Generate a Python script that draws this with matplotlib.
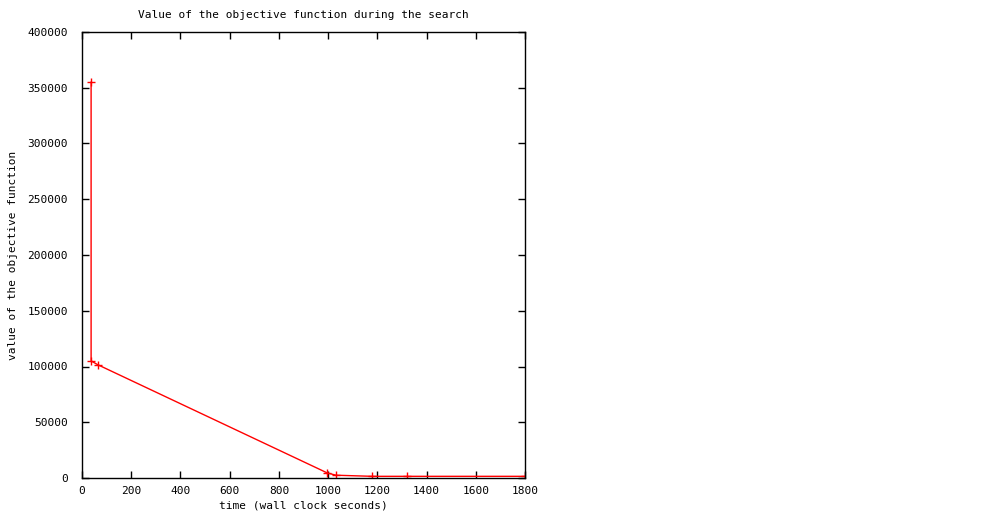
import matplotlib
matplotlib.use('Agg')
import matplotlib.pyplot as plt

# objective value over time
times = [37, 37, 65, 997, 1032, 1180, 1322, 1800]
values = [355000, 105000, 101500, 4500, 2500, 1500, 1500, 1500]

plt.rcParams['font.family'] = 'DejaVu Sans Mono'
plt.rcParams['font.size'] = 8

fig = plt.figure(figsize=(9.92, 5.12), dpi=100)
ax = fig.add_axes([82 / 992, 1 - 478 / 512, 443 / 992, 446 / 512])

ax.plot(times, values, color='#ff0000', linewidth=1, marker='+', markersize=6,
        markeredgewidth=1)

ax.set_xlim(0, 1800)
ax.set_ylim(0, 400000)
ax.set_xticks(range(0, 1801, 200))
ax.set_yticks(range(0, 400001, 50000))
ax.tick_params(direction='in', length=5, width=1, top=True, right=True, labelsize=8)
ax.tick_params(axis='y', pad=10)
ax.tick_params(axis='x', pad=6)
for s in ax.spines.values():
    s.set_linewidth(1)

ax.set_title('Value of the objective function during the search', fontsize=8, pad=10)
ax.set_xlabel('time (wall clock seconds)', labelpad=3)
ax.set_ylabel('value of the objective function')
ax.yaxis.set_label_coords(-0.145, 0.5)

fig.savefig('out.png', dpi=100)
